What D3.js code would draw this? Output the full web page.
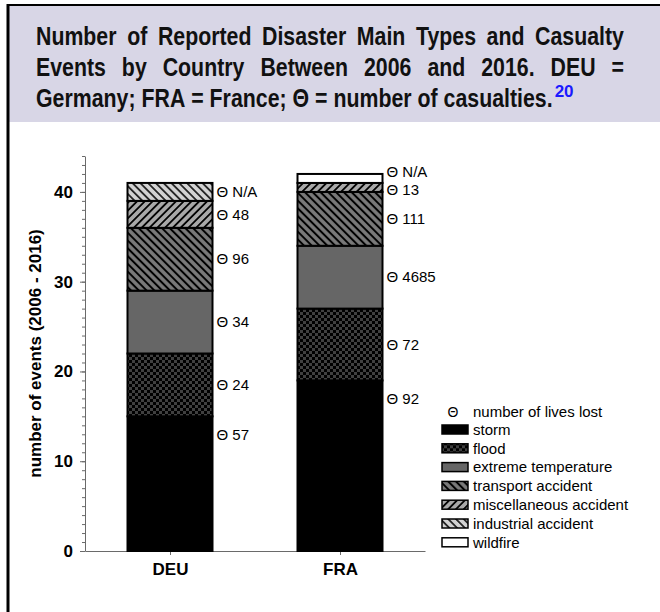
<!DOCTYPE html>
<html lang="en">
<head>
<meta charset="UTF-8">
<title>Disaster events DEU / FRA</title>
<script src="https://d3js.org/d3.v7.min.js"></script>
<style>
    body { margin: 0; padding: 0; background: #fff; }
    svg { display: block; font-family: "Liberation Sans", Arial, sans-serif; }
    .axis path, .axis line { stroke: #6a6a6a; }
    .axis text { font-weight: bold; font-size: 17px; fill: #000; }
</style>
</head>
<body>
<svg id="chart" width="660" height="612"></svg>
<script>
// ---- data ----
const countries = ["DEU", "FRA"];
const types = ["storm", "flood", "extreme temperature", "transport accident",
               "miscellaneous accident", "industrial accident", "wildfire"];
const deuEvents = [15, 7, 7, 7, 3, 2, 0];
const fraEvents = [19, 8, 7, 6, 1, 0, 1];
// number of lives lost per segment (null = no label)
const deuLives = ["57", "24", "34", "96", "48", "N/A", null];
const fraLives = ["92", "72", "4685", "111", "13", null, "N/A"];
const yTicks = [0, 10, 20, 30, 40];
const titleLines = [
    "Number of Reported Disaster Main Types and Casualty",
    "Events by Country Between 2006 and 2016. DEU =",
    "Germany; FRA = France; \u0398 = number of casualties."
];
const titleRef = "20";

const svg = d3.select("#chart");

// ---- frame + header ----
svg.append("rect").attr("x", 8).attr("y", 5).attr("width", 652).attr("height", 117).attr("fill", "#d8d6e6");
svg.append("line").attr("x1", 7).attr("x2", 660).attr("y1", 5).attr("y2", 5).attr("stroke", "#000").attr("stroke-width", 2);
svg.append("line").attr("x1", 8).attr("x2", 8).attr("y1", 4).attr("y2", 612).attr("stroke", "#000").attr("stroke-width", 3);

// title, narrow bold, first two lines justified
const tx0 = 36, tx1 = 624, squeeze = 0.82, titleSize = 26;
const title = svg.append("g").attr("font-weight", "bold").attr("font-size", titleSize).attr("fill", "#111");
titleLines.forEach((line, li) => {
    const ty = 45 + li * 31;
    const words = line.split(" ");
    const nodes = words.map(w => title.append("text").text(w));
    const widths = nodes.map(n => n.node().getComputedTextLength() * squeeze);
    const gap = li < 2 ? (tx1 - tx0 - d3.sum(widths)) / (words.length - 1) : 0.278 * titleSize * squeeze;
    let xx = tx0;
    nodes.forEach((n, i) => {
        n.attr("transform", `translate(${xx},${ty}) scale(${squeeze},1)`);
        xx += widths[i] + (i < nodes.length - 1 ? gap : 0);
    });
    if (li === 2) {
        title.append("text").text(titleRef)
            .attr("transform", `translate(${xx + 2},${ty - 10})`)
            .attr("font-size", 17).attr("fill", "#1a1aff");
    }
});

// ---- patterns ----
const defs = svg.append("defs");
const flood = defs.append("pattern").attr("id", "p-flood")
    .attr("patternUnits", "userSpaceOnUse").attr("width", 6).attr("height", 6);
flood.append("rect").attr("width", 6).attr("height", 6).attr("fill", "#000");
flood.append("rect").attr("width", 3).attr("height", 3).attr("fill", "#404040");
flood.append("rect").attr("x", 3).attr("y", 3).attr("width", 3).attr("height", 3).attr("fill", "#404040");

function hatch(id, bg, angle, gap, lw) {
    const p = defs.append("pattern").attr("id", id)
        .attr("patternUnits", "userSpaceOnUse")
        .attr("width", gap).attr("height", gap)
        .attr("patternTransform", `rotate(${angle})`);
    p.append("rect").attr("width", gap).attr("height", gap).attr("fill", bg);
    p.append("line").attr("x1", gap / 2).attr("x2", gap / 2).attr("y1", 0).attr("y2", gap)
        .attr("stroke", "#000").attr("stroke-width", lw);
}
hatch("p-transport", "#7a7a7a", -45, 5.5, 2);
hatch("p-misc", "#a8a8a8", 45, 5.5, 1.8);
hatch("p-industrial", "#d2d2d2", -45, 5.5, 1.5);

const fills = {
    "storm": "#000",
    "flood": "url(#p-flood)",
    "extreme temperature": "#666",
    "transport accident": "url(#p-transport)",
    "miscellaneous accident": "url(#p-misc)",
    "industrial accident": "url(#p-industrial)",
    "wildfire": "#fff"
};

// ---- scales ----
const x = d3.scalePoint().domain(countries).range([85, 425]).padding(0.5);
const y = d3.scaleLinear().domain([0, 44]).range([551, 156]);
const barW = x.step() * 0.5;

// ---- axes ----
svg.append("g").attr("class", "axis")
    .attr("transform", "translate(85,0)")
    .call(d3.axisLeft(y).tickValues(d3.range(0, 45)).tickSize(3).tickSizeOuter(0).tickFormat(""));
svg.append("g").attr("class", "axis")
    .attr("transform", "translate(85,0)")
    .call(d3.axisLeft(y).tickValues(yTicks).tickSize(5).tickPadding(7).tickFormat(d3.format("d")))
    .call(g => g.select(".domain").remove());
svg.append("g").attr("class", "axis")
    .attr("transform", "translate(0,551)")
    .call(d3.axisBottom(x).tickSize(4).tickSizeOuter(0).tickPadding(8));

svg.append("text")
    .attr("transform", `translate(41,${(y(0) + y(44)) / 2}) rotate(-90)`)
    .attr("text-anchor", "middle")
    .attr("font-weight", "bold").attr("font-size", 17)
    .text("number of events (2006 - 2016)");

// ---- stacked bars ----
const rows = countries.map((c, ci) => {
    const vals = ci === 0 ? deuEvents : fraEvents;
    const r = { country: c };
    types.forEach((t, i) => r[t] = vals[i]);
    return r;
});
const series = d3.stack().keys(types)(rows);

svg.append("g").selectAll("g")
    .data(series)
    .join("g")
    .attr("fill", s => fills[s.key])
    .selectAll("rect")
    .data(s => s.filter(d => d[1] > d[0]))
    .join("rect")
    .attr("x", d => x(d.data.country) - barW / 2)
    .attr("y", d => y(d[1]))
    .attr("width", barW)
    .attr("height", d => y(d[0]) - y(d[1]))
    .attr("stroke", "#000")
    .attr("stroke-width", 2);

// casualty labels: storm label near its top, thin top segments pushed apart, others centred
const labelData = [];
countries.forEach((c, ci) => {
    const lives = ci === 0 ? deuLives : fraLives;
    series.forEach((s, i) => {
        if (lives[i] === null) return;
        const d = s[ci];
        let pos = (d[0] + d[1]) / 2;
        if (i === 0) pos = d[1] - 2;
        if (s.key === "wildfire") pos = d[1] + 0.25;
        if (s.key === "miscellaneous accident" && ci === 1) pos = d[0] + 0.25;
        labelData.push({ country: c, text: "\u0398 " + lives[i], pos: pos });
    });
});
svg.append("g").attr("font-size", 15)
    .selectAll("text")
    .data(labelData)
    .join("text")
    .attr("x", d => x(d.country) + barW / 2 + 4)
    .attr("y", d => y(d.pos))
    .attr("dy", "0.35em")
    .text(d => d.text);

// ---- legend ----
const legend = svg.append("g").attr("transform", "translate(441,412)").attr("font-size", 15);
legend.append("text").attr("x", 12).attr("dy", "0.35em").attr("text-anchor", "middle").attr("font-size", 14).text("\u0398");
legend.append("text").attr("x", 32).attr("dy", "0.35em").text("number of lives lost");
const item = legend.selectAll("g.item")
    .data(types)
    .join("g")
    .attr("class", "item")
    .attr("transform", (d, i) => `translate(0,${17.5 + i * 18.8})`);
item.append("rect")
    .attr("x", 1).attr("y", -4.5).attr("width", 26).attr("height", 9)
    .attr("fill", d => fills[d]).attr("stroke", "#000").attr("stroke-width", 1.5);
item.append("text").attr("x", 32).attr("dy", "0.35em").text(d => d);
</script>
</body>
</html>
